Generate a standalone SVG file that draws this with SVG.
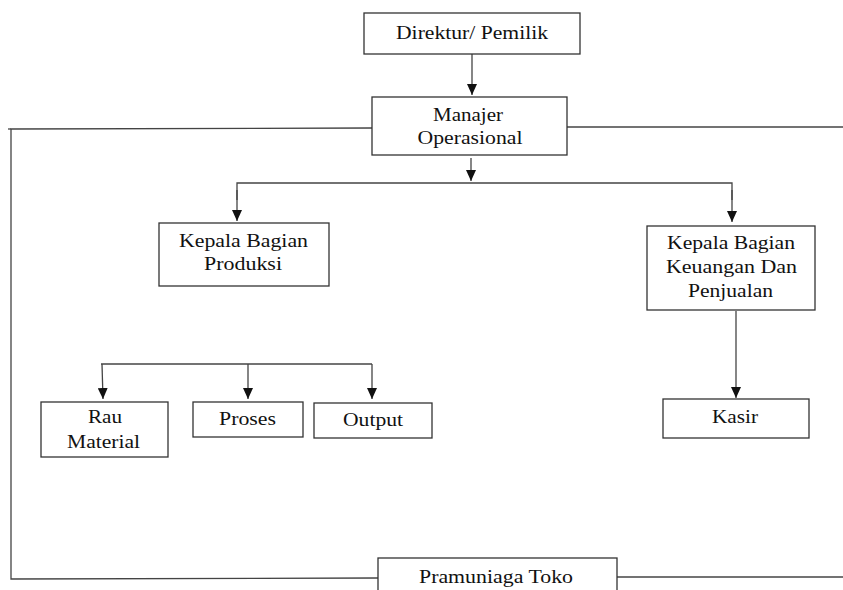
<svg xmlns="http://www.w3.org/2000/svg" width="843" height="590" viewBox="0 0 843 590">
<style>
.box{fill:#fff;stroke:#333;stroke-width:1.3}
.ln{fill:none;stroke:#444;stroke-width:1.3}
text{font-family:"Liberation Serif","Times New Roman",serif;font-size:19px;fill:#111;text-anchor:middle}
</style>
<defs>
<marker id="ad" markerUnits="userSpaceOnUse" markerWidth="11" markerHeight="10" refX="11" refY="5" orient="auto" viewBox="0 0 11 10">
<path d="M0,0 L11,5 L0,10 Z" fill="#111"/>
</marker>
</defs>
<rect width="843" height="590" fill="#fff"/>
<g id="connectors">
<line class="ln" x1="472" y1="54" x2="472" y2="95" marker-end="url(#ad)"/>
<polyline class="ln" points="372,128 11,129 11,579 378,578"/>
<line class="ln" x1="8" y1="129" x2="11" y2="129"/>
<line class="ln" x1="567" y1="127" x2="843" y2="127"/>
<line class="ln" x1="617" y1="577" x2="843" y2="577"/>
<line class="ln" x1="471" y1="158" x2="471" y2="181" marker-end="url(#ad)"/>
<polyline class="ln" points="237,200 237,183 732,183 732,200"/>
<line class="ln" x1="237" y1="190" x2="237" y2="221" marker-end="url(#ad)"/>
<line class="ln" x1="732" y1="190" x2="732" y2="222" marker-end="url(#ad)"/>
<line class="ln" x1="736" y1="311" x2="736" y2="398" marker-end="url(#ad)"/>
<polyline class="ln" points="101,364 372,364"/>
<line class="ln" x1="102" y1="364" x2="103" y2="399" marker-end="url(#ad)"/>
<line class="ln" x1="248" y1="364" x2="248" y2="399" marker-end="url(#ad)"/>
<line class="ln" x1="372" y1="364" x2="372" y2="399" marker-end="url(#ad)"/>
</g>
<g id="direktur">
<rect class="box" x="364" y="13" width="216" height="41"/>
<text x="472" y="39" textLength="152" lengthAdjust="spacingAndGlyphs">Direktur/ Pemilik</text>
</g>
<g id="manajer">
<rect class="box" x="372" y="97" width="195" height="58"/>
<text x="468" y="121" textLength="70" lengthAdjust="spacingAndGlyphs">Manajer</text>
<text x="470" y="144" textLength="105" lengthAdjust="spacingAndGlyphs">Operasional</text>
</g>
<g id="produksi">
<rect class="box" x="159" y="223" width="170" height="63"/>
<text x="243.5" y="247" textLength="129" lengthAdjust="spacingAndGlyphs">Kepala Bagian</text>
<text x="243" y="270" textLength="78" lengthAdjust="spacingAndGlyphs">Produksi</text>
</g>
<g id="keuangan">
<rect class="box" x="647" y="226" width="168" height="84"/>
<text x="731" y="249" textLength="128" lengthAdjust="spacingAndGlyphs">Kepala Bagian</text>
<text x="731.5" y="273" textLength="131" lengthAdjust="spacingAndGlyphs">Keuangan Dan</text>
<text x="730.5" y="297" textLength="85" lengthAdjust="spacingAndGlyphs">Penjualan</text>
</g>
<g id="rau-material">
<rect class="box" x="41" y="402" width="127" height="55"/>
<text x="105" y="423" textLength="34" lengthAdjust="spacingAndGlyphs">Rau</text>
<text x="103.5" y="448" textLength="73" lengthAdjust="spacingAndGlyphs">Material</text>
</g>
<g id="proses">
<rect class="box" x="193" y="402" width="110" height="35"/>
<text x="247.5" y="425" textLength="57" lengthAdjust="spacingAndGlyphs">Proses</text>
</g>
<g id="output">
<rect class="box" x="314" y="403" width="118" height="35"/>
<text x="373" y="426" textLength="60" lengthAdjust="spacingAndGlyphs">Output</text>
</g>
<g id="kasir">
<rect class="box" x="663" y="399" width="146" height="39"/>
<text x="735" y="423" textLength="46" lengthAdjust="spacingAndGlyphs">Kasir</text>
</g>
<g id="pramuniaga">
<rect class="box" x="378" y="558" width="239" height="40"/>
<text x="496" y="583" textLength="154" lengthAdjust="spacingAndGlyphs">Pramuniaga Toko</text>
</g>
</svg>
